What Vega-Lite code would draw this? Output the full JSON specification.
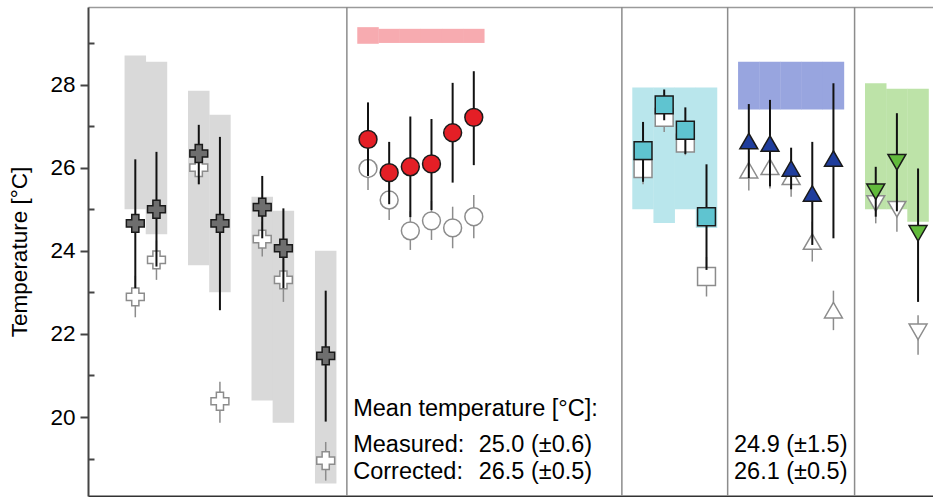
{
  "$schema": "https://vega.github.io/schema/vega-lite/v6.json",
  "width": 845,
  "height": 489,
  "autosize": {"type": "none"},
  "padding": {"left": 88, "top": 7, "right": 0, "bottom": 1},
  "background": "white",
  "config": {"view": {"stroke": null}, "font": "Liberation Sans"},
  "datasets": {
    "bands": [
      {"site": 2, "panel": "A", "lo": 25.0, "hi": 28.7},
      {"site": 3, "panel": "A", "lo": 24.4, "hi": 28.55},
      {"site": 5, "panel": "A", "lo": 23.65, "hi": 27.85},
      {"site": 6, "panel": "A", "lo": 23.0, "hi": 27.27},
      {"site": 8, "panel": "A", "lo": 20.4, "hi": 25.3},
      {"site": 9, "panel": "A", "lo": 19.86, "hi": 24.96},
      {"site": 11, "panel": "A", "lo": 18.4, "hi": 24.0},
      {"site": 13, "panel": "B", "lo": 28.98, "hi": 29.38},
      {"site": 14, "panel": "B", "lo": 29.0, "hi": 29.34},
      {"site": 15, "panel": "B", "lo": 29.0, "hi": 29.34},
      {"site": 16, "panel": "B", "lo": 29.0, "hi": 29.34},
      {"site": 17, "panel": "B", "lo": 29.0, "hi": 29.34},
      {"site": 18, "panel": "B", "lo": 29.0, "hi": 29.34},
      {"site": 26, "panel": "C", "lo": 25.0, "hi": 27.93},
      {"site": 27, "panel": "C", "lo": 24.67, "hi": 27.93},
      {"site": 28, "panel": "C", "lo": 25.0, "hi": 27.93},
      {"site": 29, "panel": "C", "lo": 24.55, "hi": 27.93},
      {"site": 31, "panel": "D", "lo": 27.4, "hi": 28.55},
      {"site": 32, "panel": "D", "lo": 27.4, "hi": 28.55},
      {"site": 33, "panel": "D", "lo": 27.4, "hi": 28.55},
      {"site": 34, "panel": "D", "lo": 27.4, "hi": 28.55},
      {"site": 35, "panel": "D", "lo": 27.4, "hi": 28.55},
      {"site": 37, "panel": "E", "lo": 25.0, "hi": 28.03},
      {"site": 38, "panel": "E", "lo": 25.0, "hi": 27.9},
      {"site": 39, "panel": "E", "lo": 24.7, "hi": 27.9}
    ],
    "points": [
      {"site": 2, "panel": "A", "corr": 24.66, "corrLo": 23.1, "corrHi": 26.2, "meas": 22.89, "measLo": 22.4, "measHi": 23.4},
      {"site": 3, "panel": "A", "corr": 25.0, "corrLo": 23.62, "corrHi": 26.38, "meas": 23.78, "measLo": 23.3, "measHi": 24.25},
      {"site": 5, "panel": "A", "corr": 26.34, "corrLo": 25.6, "corrHi": 27.03, "meas": 26.0, "measLo": 25.6, "measHi": 26.4},
      {"site": 6, "panel": "A", "corr": 24.66, "corrLo": 22.57, "corrHi": 26.74, "meas": 20.38, "measLo": 19.86, "measHi": 20.85},
      {"site": 8, "panel": "A", "corr": 25.05, "corrLo": 24.3, "corrHi": 25.8, "meas": 24.28, "measLo": 23.86, "measHi": 24.7},
      {"site": 9, "panel": "A", "corr": 24.06, "corrLo": 23.1, "corrHi": 25.02, "meas": 23.3, "measLo": 22.77, "measHi": 23.8},
      {"site": 11, "panel": "A", "corr": 21.47, "corrLo": 19.89, "corrHi": 23.04, "meas": 18.95, "measLo": 18.47, "measHi": 19.4},
      {"site": 13, "panel": "B", "corr": 26.68, "corrLo": 25.8, "corrHi": 27.57, "meas": 25.98, "measLo": 25.46, "measHi": 26.5},
      {"site": 14, "panel": "B", "corr": 25.88, "corrLo": 25.12, "corrHi": 26.62, "meas": 25.22, "measLo": 24.74, "measHi": 25.7},
      {"site": 15, "panel": "B", "corr": 26.02, "corrLo": 24.81, "corrHi": 27.23, "meas": 24.48, "measLo": 24.02, "measHi": 24.95},
      {"site": 16, "panel": "B", "corr": 26.09, "corrLo": 24.98, "corrHi": 27.17, "meas": 24.72, "measLo": 24.26, "measHi": 25.2},
      {"site": 17, "panel": "B", "corr": 26.84, "corrLo": 25.64, "corrHi": 28.04, "meas": 24.55, "measLo": 24.06, "measHi": 25.06},
      {"site": 18, "panel": "B", "corr": 27.21, "corrLo": 26.06, "corrHi": 28.32, "meas": 24.82, "measLo": 24.3, "measHi": 25.34},
      {"site": 26, "panel": "C", "corr": 26.41, "corrLo": 25.66, "corrHi": 27.1, "meas": 25.98, "measLo": 25.6, "measHi": 26.35},
      {"site": 27, "panel": "C", "corr": 27.51, "corrLo": 27.14, "corrHi": 27.88, "meas": 27.21, "measLo": 26.86, "measHi": 27.55},
      {"site": 28, "panel": "C", "corr": 26.9, "corrLo": 26.33, "corrHi": 27.45, "meas": 26.59, "measLo": 26.3, "measHi": 26.9},
      {"site": 29, "panel": "C", "corr": 24.82, "corrLo": 23.54, "corrHi": 26.08, "meas": 23.38, "measLo": 22.9, "measHi": 23.85},
      {"site": 31, "panel": "D", "corr": 26.64, "corrLo": 25.75, "corrHi": 27.53, "meas": 25.94, "measLo": 25.45, "measHi": 26.4},
      {"site": 32, "panel": "D", "corr": 26.58, "corrLo": 25.55, "corrHi": 27.63, "meas": 26.02, "measLo": 25.5, "measHi": 26.5},
      {"site": 33, "panel": "D", "corr": 25.98, "corrLo": 25.48, "corrHi": 26.48, "meas": 25.78, "measLo": 25.3, "measHi": 26.2},
      {"site": 34, "panel": "D", "corr": 25.38, "corrLo": 24.14, "corrHi": 26.62, "meas": 24.22, "measLo": 23.74, "measHi": 24.7},
      {"site": 35, "panel": "D", "corr": 26.22, "corrLo": 24.3, "corrHi": 28.03, "meas": 22.57, "measLo": 22.09, "measHi": 23.04},
      {"site": 37, "panel": "E", "corr": 25.42, "corrLo": 24.82, "corrHi": 26.02, "meas": 25.14, "measLo": 24.66, "measHi": 25.6},
      {"site": 38, "panel": "E", "corr": 26.13, "corrLo": 24.95, "corrHi": 27.31, "meas": 25.0, "measLo": 24.46, "measHi": 25.5},
      {"site": 39, "panel": "E", "corr": 24.42, "corrLo": 22.77, "corrHi": 25.98, "meas": 22.05, "measLo": 21.5, "measHi": 22.45}
    ],
    "separators": [{"site": 12}, {"site": 25}, {"site": 30}, {"site": 36}],
    "notes": [
      {"x": 12.3, "y": 20.02, "text": "Mean temperature [°C]:"},
      {"x": 12.3, "y": 19.15, "text": "Measured:"},
      {"x": 12.3, "y": 18.5, "text": "Corrected:"},
      {"x": 18.23, "y": 19.15, "text": "25.0 (±0.6)"},
      {"x": 18.23, "y": 18.5, "text": "26.5 (±0.5)"},
      {"x": 30.3, "y": 19.15, "text": "24.9 (±1.5)"},
      {"x": 30.3, "y": 18.5, "text": "26.1 (±0.5)"}
    ]
  },
  "layer": [
    {
      "data": {"name": "bands"},
      "mark": {"type": "bar", "size": 21.5, "clip": true},
      "encoding": {
        "x": {"field": "site", "type": "quantitative", "scale": {"domain": [0, 39.47], "nice": false, "zero": false},
          "axis": {"orient": "top", "domainColor": "#9a9a9a", "domainWidth": 1.5, "ticks": false, "labels": false, "title": null, "grid": false}},
        "y": {"field": "lo", "type": "quantitative", "scale": {"domain": [18.1, 29.865], "nice": false, "zero": false},
          "axis": {"orient": "left", "values": [20, 22, 24, 26, 28], "tickSize": 8, "tickWidth": 2, "tickColor": "#444", "domainColor": "#444", "domainWidth": 2, "labelFontSize": 22.5, "labelColor": "black", "labelPadding": 5, "labelFont": "Liberation Sans", "title": "Temperature [°C]", "titleFont": "Liberation Sans", "titleFontSize": 22.5, "titleFontWeight": "normal", "titleColor": "black", "titlePadding": 18, "grid": false}},
        "y2": {"field": "hi"},
        "color": {"field": "panel", "type": "nominal", "legend": null,
          "scale": {"domain": ["A", "B", "C", "D", "E"], "range": ["#d9d9d9", "#f7abb0", "#b9e6ec", "#98a5df", "#bde3a8"]}}
      }
    },
    {
      "data": {"name": "separators"},
      "mark": {"type": "rule", "color": "#8c8c8c", "strokeWidth": 1.5},
      "encoding": {
        "x": {"field": "site", "type": "quantitative",
          "axis": {"orient": "bottom", "domainColor": "#333", "domainWidth": 2, "ticks": false, "labels": false, "title": null, "grid": false}}
      }
    },
    {
      "data": {"name": "points"},
      "mark": {"type": "rule", "color": "#8c8c8c", "strokeWidth": 1.5},
      "encoding": {
        "x": {"field": "site", "type": "quantitative", "axis": null},
        "y": {"field": "measLo", "type": "quantitative", "axis": null},
        "y2": {"field": "measHi"}
      }
    },
    {
      "data": {"name": "points"},
      "mark": {"type": "point", "filled": true, "fill": "white", "stroke": "#8c8c8c", "strokeWidth": 1.5, "size": 320, "opacity": 1},
      "encoding": {
        "x": {"field": "site", "type": "quantitative", "axis": null},
        "y": {"field": "meas", "type": "quantitative",
          "axis": {"orient": "left", "values": [19, 21, 23, 25, 27, 29], "tickSize": -6, "tickWidth": 2, "tickColor": "#444", "domain": false, "labels": false, "title": null, "grid": false}},
        "shape": {"field": "panel", "type": "nominal", "legend": null,
          "scale": {"domain": ["A", "B", "C", "D", "E"], "range": ["cross", "circle", "square", "triangle-up", "triangle-down"]}}
      }
    },
    {
      "data": {"name": "points"},
      "mark": {"type": "rule", "color": "#111111", "strokeWidth": 2},
      "encoding": {
        "x": {"field": "site", "type": "quantitative", "axis": null},
        "y": {"field": "corrLo", "type": "quantitative", "axis": null},
        "y2": {"field": "corrHi"}
      }
    },
    {
      "data": {"name": "points"},
      "mark": {"type": "point", "filled": true, "stroke": "#1a1a1a", "strokeWidth": 1.5, "size": 320, "opacity": 1},
      "encoding": {
        "x": {"field": "site", "type": "quantitative", "axis": null},
        "y": {"field": "corr", "type": "quantitative", "axis": null},
        "shape": {"field": "panel", "type": "nominal", "legend": null},
        "fill": {"field": "panel", "type": "nominal", "legend": null,
          "scale": {"domain": ["A", "B", "C", "D", "E"], "range": ["#6e6e6e", "#e41f26", "#5fc4d0", "#1f3d9c", "#62ba3c"]}}
      }
    },
    {
      "data": {"name": "notes"},
      "mark": {"type": "text", "align": "left", "baseline": "alphabetic", "fontSize": 23.5, "font": "Liberation Sans", "color": "black"},
      "encoding": {
        "x": {"field": "x", "type": "quantitative", "axis": null},
        "y": {"field": "y", "type": "quantitative", "axis": null},
        "text": {"field": "text"}
      }
    }
  ],
  "resolve": {"axis": {"x": "independent", "y": "independent"}}
}
